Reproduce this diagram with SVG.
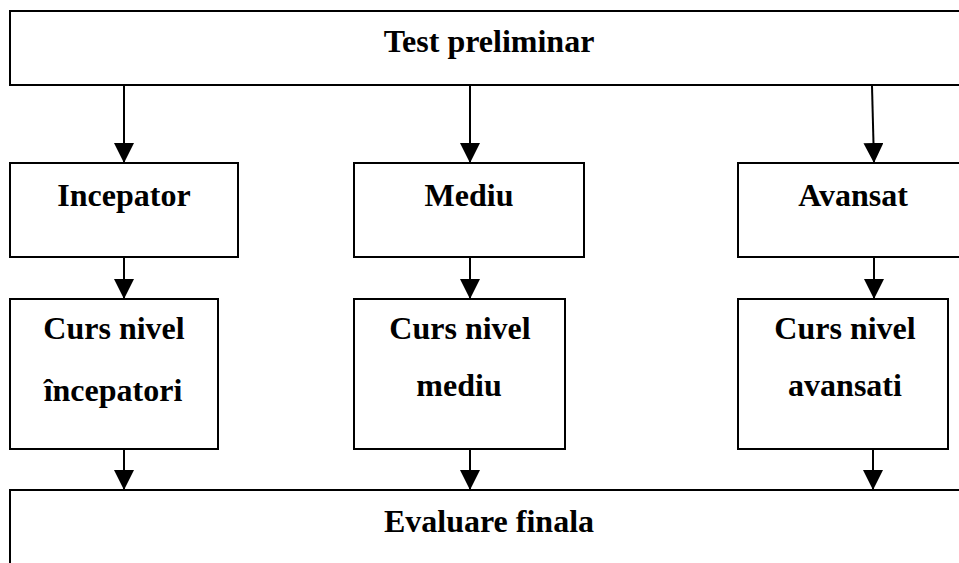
<svg xmlns="http://www.w3.org/2000/svg" width="959" height="563" viewBox="0 0 959 563">
<style>
rect{fill:#fff;stroke:#000;stroke-width:2}
text{font-family:"Liberation Serif","Times New Roman",serif;font-weight:bold;font-size:32px;text-anchor:middle;fill:#000}
.c line{stroke:#000;stroke-width:2;marker-end:url(#ah)}
</style>
<defs>
<marker id="ah" markerUnits="userSpaceOnUse" markerWidth="20" markerHeight="20" refX="20" refY="10" orient="auto">
<path d="M0,0 L20,10 L0,20 z" fill="#000"/>
</marker>
</defs>
<rect width="959" height="563" style="stroke:none"/>
<g id="test"><rect x="10" y="11" width="952" height="74"/><text x="489" y="52">Test preliminar</text></g>
<g id="incepator"><rect x="10" y="163" width="228" height="94"/><text x="124" y="206">Incepator</text></g>
<g id="mediu"><rect x="354" y="163" width="230" height="94"/><text x="469" y="206">Mediu</text></g>
<g id="avansat"><rect x="738" y="163" width="224" height="94"/><text x="853" y="206">Avansat</text></g>
<g id="curs-incepatori"><rect x="10" y="299" width="208" height="150"/><text x="114" y="339">Curs nivel</text><text x="113" y="401">începatori</text></g>
<g id="curs-mediu"><rect x="354" y="299" width="211" height="150"/><text x="460" y="339">Curs nivel</text><text x="459" y="396">mediu</text></g>
<g id="curs-avansati"><rect x="738" y="299" width="210" height="150"/><text x="845" y="339">Curs nivel</text><text x="845" y="396">avansati</text></g>
<g id="evaluare"><rect x="10" y="490" width="952" height="80"/><text x="489" y="532">Evaluare finala</text></g>
<g class="c" id="connectors">
<line x1="124" y1="86" x2="124" y2="163"/>
<line x1="470" y1="86" x2="470" y2="163"/>
<line x1="872" y1="86" x2="874" y2="163"/>
<line x1="124" y1="258" x2="124" y2="299"/>
<line x1="470" y1="258" x2="470" y2="299"/>
<line x1="874" y1="258" x2="874" y2="299"/>
<line x1="124" y1="450" x2="124" y2="490"/>
<line x1="470" y1="450" x2="470" y2="490"/>
<line x1="873" y1="450" x2="873" y2="490"/>
</g>
</svg>
